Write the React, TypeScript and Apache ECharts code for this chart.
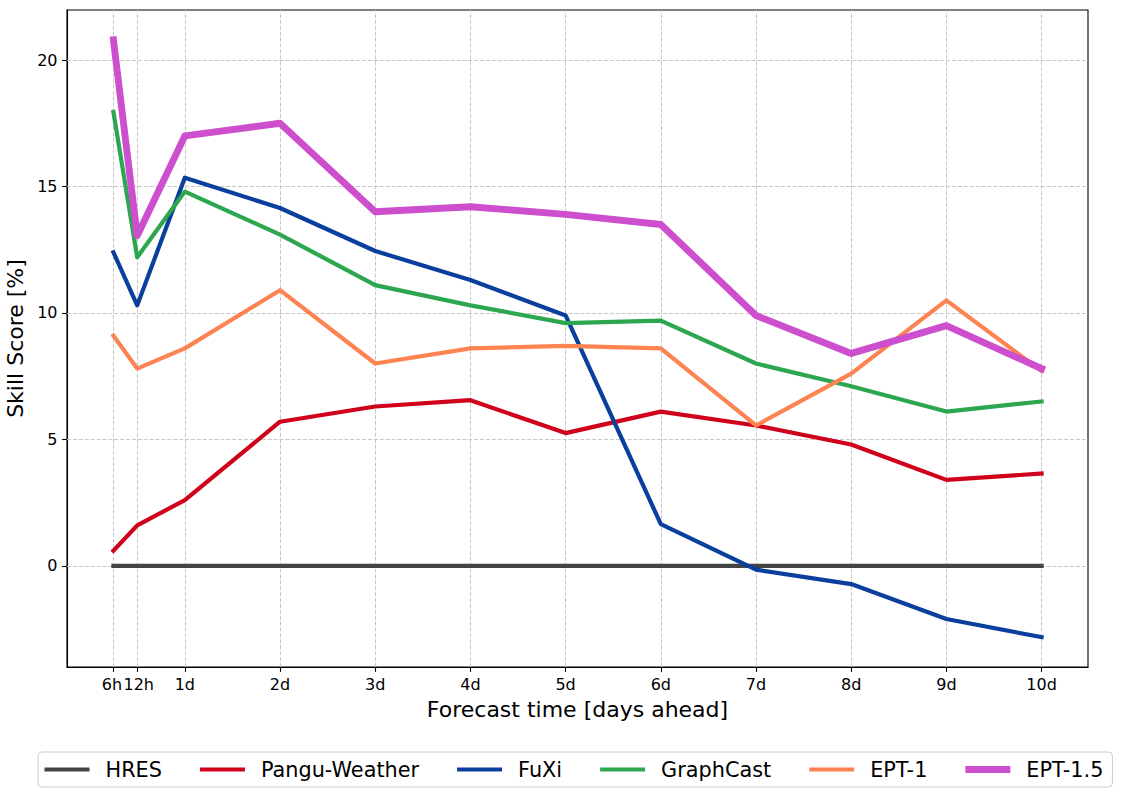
import React, { useEffect, useRef } from "react";
import * as echarts from "echarts";

const xValues = [0.25, 0.5, 1, 2, 3, 4, 5, 6, 7, 8, 9, 10];
const xTickLabels = ["6h", "12h", "1d", "2d", "3d", "4d", "5d", "6d", "7d", "8d", "9d", "10d"];
const yTicks = [0, 5, 10, 15, 20];

const hres = [0, 0, 0, 0, 0, 0, 0, 0, 0, 0, 0, 0];
const pangu = [0.6, 1.6, 2.6, 5.7, 6.3, 6.55, 5.25, 6.1, 5.55, 4.8, 3.4, 3.65];
const fuxi = [12.4, 10.3, 15.35, 14.15, 12.45, 11.3, 9.9, 1.65, -0.15, -0.72, -2.1, -2.82];
const graphcast = [17.95, 12.2, 14.8, 13.1, 11.1, 10.3, 9.6, 9.7, 8.0, 7.1, 6.1, 6.5];
const ept1 = [9.1, 7.8, 8.6, 10.9, 8.0, 8.6, 8.7, 8.6, 5.55, 7.6, 10.5, 7.7];
const ept15 = [20.8, 13.05, 17.0, 17.5, 14.0, 14.2, 13.9, 13.5, 9.9, 8.4, 9.5, 7.8];

const seriesNames = ["HRES", "Pangu-Weather", "FuXi", "GraphCast", "EPT-1", "EPT-1.5"];
const seriesValues = [hres, pangu, fuxi, graphcast, ept1, ept15];
const seriesColors = ["#444444", "#d0021b", "#0a3f9e", "#2ca64f", "#fe8352", "#cd4fcd"];
const seriesWidths = [4.2, 4.2, 4.2, 4.2, 4.2, 6.9];

const FONT = "DejaVu Sans";

export default function App() {
  const ref = useRef<HTMLDivElement>(null);

  useEffect(() => {
    if (!ref.current) return;
    const chart = echarts.init(ref.current, null, { renderer: "svg" });

    const labelMap: Record<string, string> = {};
    xValues.forEach((v, i) => {
      labelMap[String(v)] = xTickLabels[i];
    });

    // 12h label is drawn by a second (label-only) axis so that both 6h and 12h stay visible
    const mainLabelValues = xValues.filter((_, i) => i !== 1);
    const secondLabelValues = [xValues[1]];

    const gridLineData: any[] = [
      ...xValues.map((v) => ({ xAxis: v })),
      ...yTicks.map((v) => ({ yAxis: v })),
    ];

    const dataSeries = seriesNames.map((name, i) => ({
      name,
      type: "line",
      xAxisIndex: 0,
      yAxisIndex: 0,
      data: xValues.map((x, j) => [x, seriesValues[i][j]]),
      symbol: "none",
      showSymbol: false,
      z: 3,
      lineStyle: {
        color: seriesColors[i],
        width: seriesWidths[i],
        cap: "square",
        join: "round",
      },
      itemStyle: { color: seriesColors[i] },
      emphasis: { disabled: true },
    }));

    const xMin = -0.2375;
    const xMax = 10.4875;

    const labelStyle = {
      fontFamily: FONT,
      fontSize: 16,
      color: "#000",
    };

    const option: any = {
      animation: false,
      backgroundColor: "#ffffff",
      textStyle: { fontFamily: FONT },
      grid: {
        left: 67,
        right: 38,
        top: 10,
        bottom: 131,
        show: true,
        borderColor: "#000000",
        borderWidth: 1.1,
        backgroundColor: "transparent",
        containLabel: false,
        outerBoundsMode: "none",
      },
      xAxis: [
        {
          type: "value",
          min: xMin,
          max: xMax,
          position: "bottom",
          name: "Forecast time [days ahead]",
          nameLocation: "middle",
          nameGap: 31,
          nameTextStyle: { fontFamily: FONT, fontSize: 22, color: "#000" },
          axisLine: { show: true, onZero: false, lineStyle: { color: "#000", width: 1.1 } },
          axisTick: {
            show: true,
            customValues: xValues,
            length: 4.9,
            lineStyle: { color: "#000", width: 1.1 },
          },
          axisLabel: {
            show: true,
            customValues: mainLabelValues,
            hideOverlap: false,
            margin: 9,
            ...labelStyle,
            formatter: (v: number) => {
              const t = labelMap[String(v)] ?? "";
              return v === xValues[0] ? `{l|${t}}` : t;
            },
            rich: {
              l: { ...labelStyle, padding: [0, 3, 0, 0] },
            },
          },
          splitLine: { show: false },
        },
        {
          type: "value",
          min: xMin,
          max: xMax,
          position: "bottom",
          offset: 0,
          axisLine: { show: false, onZero: false },
          axisTick: { show: false },
          axisLabel: {
            show: true,
            customValues: secondLabelValues,
            hideOverlap: false,
            margin: 9,
            ...labelStyle,
            formatter: (v: number) => `{r|${labelMap[String(v)] ?? ""}}`,
            rich: {
              r: { ...labelStyle, padding: [0, 0, 0, 3] },
            },
          },
          splitLine: { show: false },
        },
      ],
      yAxis: {
        type: "value",
        min: -4.0,
        max: 21.98,
        name: "Skill Score [%]",
        nameLocation: "middle",
        nameGap: 36,
        nameRotate: 90,
        nameTextStyle: { fontFamily: FONT, fontSize: 22, color: "#000" },
        axisLine: { show: true, onZero: false, lineStyle: { color: "#000", width: 1.1 } },
        axisTick: {
          show: true,
          customValues: yTicks,
          length: 4.9,
          lineStyle: { color: "#000", width: 1.1 },
        },
        axisLabel: {
          show: true,
          customValues: yTicks,
          hideOverlap: false,
          margin: 9.5,
          ...labelStyle,
          formatter: (v: number) => String(v),
        },
        splitLine: { show: false },
      },
      legend: {
        show: true,
        left: 38,
        top: 752,
        orient: "horizontal",
        itemWidth: 45,
        itemHeight: 14,
        itemGap: 38,
        padding: [7, 9, 7, 6.5],
        borderColor: "#cccccc",
        borderWidth: 1,
        borderRadius: 4,
        backgroundColor: "#ffffff",
        selectedMode: false,
        symbolKeepAspect: true,
        textStyle: {
          fontFamily: FONT,
          fontSize: 20.8,
          color: "#000",
          padding: [0, 0, 0, 11],
        },
        data: seriesNames.map((name, i) => ({
          name,
          icon: `path://M0,0L45,0L45,${seriesWidths[i]}L0,${seriesWidths[i]}Z`,
          itemStyle: { color: seriesColors[i], borderWidth: 0 },
        })),
      },
      series: [
        {
          name: "__grid",
          type: "line",
          data: [],
          z: 1,
          silent: true,
          markLine: {
            silent: true,
            z: 1,
            symbol: ["none", "none"],
            label: { show: false },
            emphasis: { disabled: true },
            lineStyle: { color: "#c8c8c8", width: 1, type: [4.1, 1.8] },
            data: gridLineData,
          },
        },
        ...dataSeries,
      ],
    };

    chart.setOption(option);
    return () => {
      chart.dispose();
    };
  }, []);

  return (
    <div
      ref={ref}
      style={{
        position: "absolute",
        left: 0,
        top: 0,
        width: 1126,
        height: 798,
        background: "#ffffff",
      }}
    />
  );
}
